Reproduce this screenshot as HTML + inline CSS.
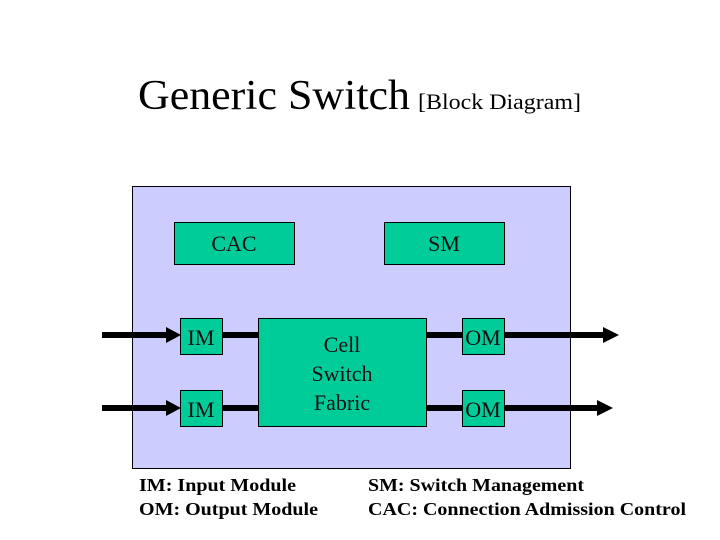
<!DOCTYPE html>
<html><head><meta charset="utf-8"><style>body{margin:0;background:#fff}svg{display:block}</style></head>
<body>
<svg width="720" height="540" viewBox="0 0 720 540" xmlns="http://www.w3.org/2000/svg" font-family="Liberation Serif, serif">
<text x="138" y="109" font-size="42" textLength="272" lengthAdjust="spacingAndGlyphs">Generic Switch</text>
<text x="418" y="109" font-size="22" textLength="163" lengthAdjust="spacingAndGlyphs">[Block Diagram]</text>
<rect x="132.5" y="186.5" width="438" height="282" fill="#ccccff" stroke="#000" stroke-width="1"/>
<g fill="#00cc99" stroke="#000" stroke-width="1">
<rect x="174.5" y="222.5" width="120" height="42"/>
<rect x="384.5" y="222.5" width="120" height="42"/>
<rect x="258.5" y="318.5" width="168" height="108"/>
</g>
<g stroke="#000" stroke-width="6">
<line x1="102" y1="335" x2="170" y2="335"/>
<line x1="102" y1="408" x2="170" y2="408"/>
<line x1="222" y1="335" x2="258" y2="335"/>
<line x1="222" y1="408" x2="258" y2="408"/>
<line x1="426" y1="335" x2="462" y2="335"/>
<line x1="426" y1="408" x2="462" y2="408"/>
<line x1="504" y1="335" x2="606" y2="335"/>
<line x1="504" y1="408" x2="600" y2="408"/>
</g>
<g fill="#000">
<polygon points="166,327 181,335 166,343"/>
<polygon points="166,400 181,408 166,416"/>
<polygon points="603,327 619,335 603,343"/>
<polygon points="597,400 613,408 597,416"/>
</g>
<g fill="#00cc99" stroke="#000" stroke-width="1">
<rect x="180.5" y="318.5" width="42" height="36"/>
<rect x="180.5" y="390.5" width="42" height="36"/>
<rect x="462.5" y="318.5" width="42" height="36"/>
<rect x="462.5" y="390.5" width="42" height="36"/>
</g>
<g font-size="22" fill="#111" text-anchor="middle">
<text x="234" y="251">CAC</text>
<text x="444" y="251">SM</text>
<text x="201" y="345">IM</text>
<text x="201" y="417">IM</text>
<text x="483" y="345">OM</text>
<text x="483" y="417">OM</text>
<text x="342" y="352">Cell</text>
<text x="342" y="381">Switch</text>
<text x="342" y="410">Fabric</text>
</g>
<g font-size="18" font-weight="bold">
<text x="139" y="491" textLength="157" lengthAdjust="spacingAndGlyphs">IM: Input Module</text>
<text x="139" y="515" textLength="179" lengthAdjust="spacingAndGlyphs">OM: Output Module</text>
<text x="368" y="491" textLength="216" lengthAdjust="spacingAndGlyphs">SM: Switch Management</text>
<text x="368" y="515" textLength="318" lengthAdjust="spacingAndGlyphs">CAC: Connection Admission Control</text>
</g>
</svg>
</body></html>
